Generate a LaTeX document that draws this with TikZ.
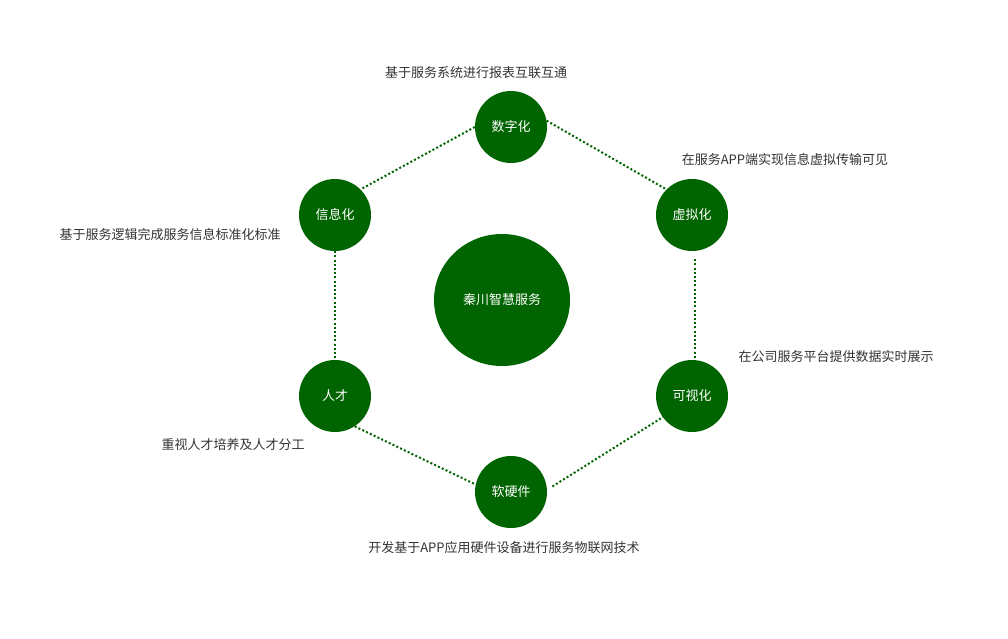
\documentclass[tikz,border=0pt]{standalone}
\usepackage{fontspec}
\usetikzlibrary{shapes.geometric}
\newfontfamily\cjk{Noto Sans CJK SC}
\definecolor{dkgreen}{HTML}{006400}
\definecolor{txtgray}{HTML}{333333}
\begin{document}
\begin{tikzpicture}[x=1pt,y=-1pt,
  circ/.style={circle,fill=dkgreen,minimum size=72pt,inner sep=0pt,text=white,font=\cjk\fontsize{13}{15}\selectfont},
  lbl/.style={text=txtgray,inner sep=0pt,font=\cjk\fontsize{13}{15}\selectfont},
  link/.style={draw=dkgreen,line width=2pt,dash pattern=on 2pt off 2.2pt}]
\useasboundingbox (0,0) rectangle (1008,639);
\node[ellipse,fill=dkgreen,minimum width=136pt,minimum height=132pt,inner sep=0pt,text=white,font=\cjk\fontsize{13}{15}\selectfont] (core) at (502,300) {秦川智慧服务};
\node[circ] (szh) at (511,127) {数字化};
\node[circ] (xxh) at (335,215) {信息化};
\node[circ] (xnh) at (692,215) {虚拟化};
\node[circ] (ksh) at (692,396) {可视化};
\node[circ] (rc) at (335,396) {人才};
\node[circ] (rjy) at (511,492) {软硬件};
\node[lbl] (l1) at (476,73) {基于服务系统进行报表互联互通};
\node[lbl] (l2) at (785,160) {在服务APP端实现信息虚拟传输可见};
\node[lbl] (l3) at (170,235) {基于服务逻辑完成服务信息标准化标准};
\node[lbl] (l4) at (836,357) {在公司服务平台提供数据实时展示};
\node[lbl] (l5) at (233,445) {重视人才培养及人才分工};
\node[lbl] (l6) at (504,548) {开发基于APP应用硬件设备进行服务物联网技术};
\path[link] (szh.west) -- (xxh.north east);
\path[link] (szh.10) -- (xnh.north west);
\path[link] ([shift={(3,8)}]xnh.south) -- ([xshift=3pt]ksh.north);
\path[link] (xxh.south) -- (rc.north);
\path[link] (rc.-57) -- (rjy.168);
\path[link] ([shift={(6,2)}]rjy.12) -- ([shift={(-5,-10)}]ksh.234);
\end{tikzpicture}
\end{document}
